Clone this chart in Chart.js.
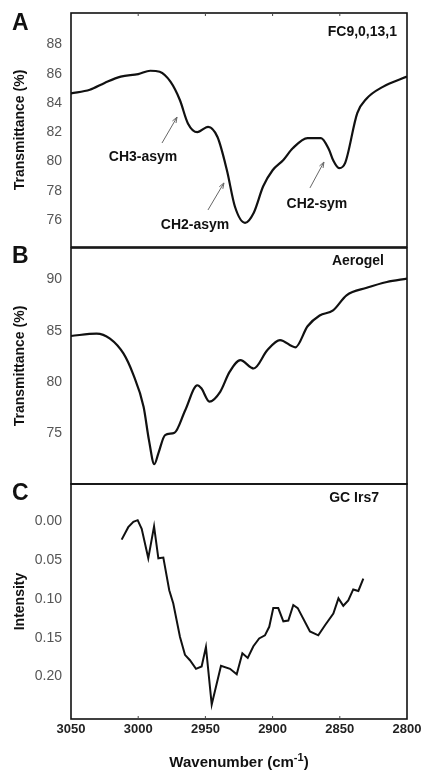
<!DOCTYPE html>
<html>
<head>
<meta charset="utf-8">
<script src="https://cdn.jsdelivr.net/npm/chart.js@4/dist/chart.umd.min.js"></script>
<style>
  body { margin: 0; background: #fff; }
  #wrap { position: relative; width: 425px; height: 771px; }
  canvas { position: absolute; left: 0; }
</style>
</head>
<body>
<div id="wrap">
  <canvas id="panelA" width="425" height="260" style="top:0px"></canvas>
  <canvas id="panelB" width="425" height="260" style="top:240px"></canvas>
  <canvas id="panelC" width="425" height="301" style="top:470px"></canvas>
</div>
<script>
// panel A - FC9,0,13,1 transmittance
const wnA = [3050, 3036, 3025, 3013, 3000, 2991, 2984, 2976, 2969, 2963, 2956, 2948, 2941, 2934, 2928, 2920.5, 2914, 2907, 2900, 2892, 2885, 2874, 2864, 2858, 2855, 2850.5, 2846, 2837, 2830, 2818, 2800]
const valA = [84.65, 84.9, 85.37, 85.8, 85.97, 86.2, 86.13, 85.45, 84.2, 82.6, 82.0, 82.37, 81.67, 79.4, 76.9, 75.8, 76.5, 78.3, 79.4, 80.1, 80.9, 81.6, 81.6, 80.8, 80.1, 79.55, 79.9, 83.3, 84.3, 85.1, 85.8]
const ticksA = [76, 78, 80, 82, 84, 86, 88]

// panel B - Aerogel transmittance
const wnB = [3050, 3031, 3021, 3011, 3004, 2996, 2992, 2988, 2985, 2980, 2973, 2965, 2956, 2953, 2947, 2939, 2932, 2924, 2914, 2904, 2894.5, 2883, 2874, 2865, 2855, 2845, 2830, 2815, 2800]
const valB = [84.5, 84.74, 84.25, 82.8, 80.85, 77.6, 74.35, 72.0, 73.06, 74.84, 75.07, 77.27, 79.7, 79.4, 78.1, 79.06, 81.0, 82.14, 81.33, 83.1, 84.1, 83.4, 85.45, 86.5, 87.0, 88.47, 89.2, 89.77, 90.1]
const ticksB = [75, 80, 85, 90]

// panel C - GC Irs7 intensity
const wnC = [3012.3, 3007.4, 3003.6, 3000.4, 2997.4, 2992.5, 2988.2, 2985, 2981.3, 2976.9, 2973.9, 2968.9, 2965.2, 2961.5, 2957, 2952.8, 2949.6, 2945.3, 2938.4, 2931.7, 2926.7, 2922.5, 2918.5, 2914.3, 2910, 2905.7, 2902.5, 2899.5, 2895.8, 2892, 2888.3, 2884.6, 2881.3, 2872.2, 2866, 2861, 2854.8, 2851, 2847.4, 2843.7, 2840, 2836.2, 2832.5]
const valC = [0.024, 0.008, 0.001, -0.001, 0.010, 0.048, 0.007, 0.048, 0.047, 0.089, 0.106, 0.149, 0.172, 0.179, 0.190, 0.187, 0.162, 0.236, 0.186, 0.190, 0.197, 0.170, 0.176, 0.161, 0.151, 0.147, 0.136, 0.112, 0.112, 0.129, 0.128, 0.108, 0.112, 0.142, 0.147, 0.134, 0.119, 0.0995, 0.109, 0.102, 0.088, 0.090, 0.074]
const ticksC = [0.00, 0.05, 0.10, 0.15, 0.20]

const xTicks = [3050, 3000, 2950, 2900, 2850, 2800]

// band labels in panel A (text spot and arrow tail -> head, in data units)
const bandNames = ['CH3-asym', 'CH2-asym', 'CH2-sym']
const bandTextWn = [2996.4, 2957.7, 2867]
const bandTextVal = [80.31, 75.66, 77.09]
const arrowFrom = [[2982.3, 81.26], [2948.1, 76.68], [2872.2, 78.19]]
const arrowTo = [[2971.1, 83.03], [2936.2, 78.53], [2861.8, 79.96]]

const FONT = '"Liberation Sans", Arial, Helvetica, sans-serif'

function toXY(xs, ys){
    return xs.map((x, i) => ({x: x, y: ys[i]}))
}

// frame + panel letter + sample name
const framePlugin = {
    id: 'frame',
    afterDraw(chart){
        let o = chart.options.plugins.frame
        let a = chart.chartArea
        let ctx = chart.ctx
        ctx.save()
        ctx.strokeStyle = '#111'
        ctx.lineWidth = 1.6
        ctx.strokeRect(a.left, a.top, a.right - a.left, a.bottom - a.top)
        // little inward ticks
        let xs = chart.scales.x
        ctx.lineWidth = 1
        ctx.strokeStyle = '#444'
        xTicks.slice(1, -1).forEach(v => {
            let px = xs.getPixelForValue(v)
            if (o.tickTop) { ctx.beginPath(); ctx.moveTo(px, a.top); ctx.lineTo(px, a.top + 3); ctx.stroke() }
            if (o.tickBottom) { ctx.beginPath(); ctx.moveTo(px, a.bottom); ctx.lineTo(px, a.bottom - 3); ctx.stroke() }
        })
        ctx.fillStyle = '#111'
        ctx.font = 'bold 23px ' + FONT
        ctx.textAlign = 'left'
        ctx.textBaseline = 'middle'
        ctx.fillText(o.letter, 12, o.letterY)
        ctx.font = 'bold 14px ' + FONT
        ctx.textAlign = 'right'
        ctx.fillText(o.name, a.right - o.nameDx, a.top + o.nameDy)
        if (o.xTitle) {
            let cx = (a.left + a.right) / 2
            let y = a.bottom + 44
            ctx.font = 'bold 15px ' + FONT
            let t1 = 'Wavenumber (cm', sup = '-1', t2 = ')'
            let w1 = ctx.measureText(t1).width
            let w3 = ctx.measureText(t2).width
            ctx.font = 'bold 11px ' + FONT
            let w2 = ctx.measureText(sup).width
            let x0 = cx - (w1 + w2 + w3) / 2
            ctx.textAlign = 'left'
            ctx.font = 'bold 15px ' + FONT
            ctx.fillText(t1, x0, y)
            ctx.fillText(t2, x0 + w1 + w2, y)
            ctx.font = 'bold 11px ' + FONT
            ctx.fillText(sup, x0 + w1, y - 5)
        }
        ctx.restore()
    }
}

const bandPlugin = {
    id: 'bands',
    afterDatasetsDraw(chart){
        if (!chart.options.plugins.bands.show) return
        let xs = chart.scales.x, ys = chart.scales.y
        let ctx = chart.ctx
        ctx.save()
        ctx.lineWidth = 1
        for (let i = 0; i < bandNames.length; i++){
            ctx.strokeStyle = '#666'
            let x1 = xs.getPixelForValue(arrowFrom[i][0]), y1 = ys.getPixelForValue(arrowFrom[i][1])
            let x2 = xs.getPixelForValue(arrowTo[i][0]), y2 = ys.getPixelForValue(arrowTo[i][1])
            ctx.beginPath(); ctx.moveTo(x1, y1); ctx.lineTo(x2, y2); ctx.stroke()
            let ang = Math.atan2(y2 - y1, x2 - x1)
            ctx.beginPath()
            ctx.moveTo(x2, y2)
            ctx.lineTo(x2 - 6 * Math.cos(ang - 0.35), y2 - 6 * Math.sin(ang - 0.35))
            ctx.moveTo(x2, y2)
            ctx.lineTo(x2 - 6 * Math.cos(ang + 0.35), y2 - 6 * Math.sin(ang + 0.35))
            ctx.stroke()
            ctx.fillStyle = '#111'
            ctx.font = 'bold 14px ' + FONT
            ctx.textAlign = 'center'
            ctx.textBaseline = 'middle'
            ctx.fillText(bandNames[i], xs.getPixelForValue(bandTextWn[i]), ys.getPixelForValue(bandTextVal[i]))
        }
        ctx.restore()
    }
}

function panelChart(id, xy, yMin, yMax, yTickVals, yTitle, opts){
    const data = {
        datasets: [{
            data: xy,
            borderColor: '#111',
            borderWidth: opts.lineWidth,
            pointRadius: 0,
            fill: false,
            tension: opts.smooth ? 0.4 : 0,
            cubicInterpolationMode: opts.smooth ? 'monotone' : 'default'
        }]
    }
    const config = {
        type: 'line',
        data: data,
        plugins: [framePlugin, bandPlugin],
        options: {
            responsive: false,
            maintainAspectRatio: false,
            animation: false,
            layout: { padding: opts.padding },
            plugins: {
                legend: { display: false },
                tooltip: { enabled: false },
                frame: opts.frame,
                bands: { show: !!opts.bands }
            },
            scales: {
                x: {
                    type: 'linear',
                    reverse: true,
                    min: 2800,
                    max: 3050,
                    display: !!opts.showX,
                    afterFit: s => {
                        s.height = opts.showX ? 52 : 0
                        s.paddingLeft = 0
                        s.paddingRight = 0
                    },
                    afterBuildTicks: s => { s.ticks = xTicks.map(v => ({value: v})) },
                    grid: { display: false, drawTicks: false },
                    border: { display: false },
                    ticks: {
                        padding: 3,
                        maxRotation: 0,
                        autoSkip: false,
                        color: '#222',
                        font: { family: FONT, size: 13, weight: 'bold' },
                        callback: v => String(v)
                    }
                },
                y: {
                    type: 'linear',
                    reverse: !!opts.reverseY,
                    min: yMin,
                    max: yMax,
                    afterFit: s => {
                        s.width = 71
                        s.paddingTop = 0
                        s.paddingBottom = 0
                    },
                    afterBuildTicks: s => { s.ticks = yTickVals.map(v => ({value: v})) },
                    grid: { display: false, drawTicks: false },
                    border: { display: false },
                    ticks: {
                        padding: 9,
                        color: '#555',
                        font: { family: FONT, size: 14 },
                        callback: v => opts.decimals ? v.toFixed(2) : String(v)
                    },
                    title: {
                        display: true,
                        text: yTitle,
                        color: '#111',
                        padding: { top: 12, bottom: 0 },
                        font: { family: FONT, size: 14, weight: 'bold' }
                    }
                }
            }
        }
    }
    let ctx = document.getElementById(id).getContext('2d')
    return new Chart(ctx, config)
}

panelChart('panelA', toXY(wnA, valA), 74.15, 90.15, ticksA, 'Transmittance (%)', {
    smooth: true, lineWidth: 2.2, bands: true,
    padding: { top: 13, right: 18, bottom: 13, left: 0 },
    frame: { letter: 'A', letterY: 24, name: 'FC9,0,13,1', nameDx: 10, nameDy: 19, tickTop: true }
})

panelChart('panelB', toXY(wnB, valB), 70.07, 93.08, ticksB, 'Transmittance (%)', {
    smooth: true, lineWidth: 2.2,
    padding: { top: 8, right: 18, bottom: 16, left: 0 },
    frame: { letter: 'B', letterY: 17, name: 'Aerogel', nameDx: 23, nameDy: 13 }
})

panelChart('panelC', toXY(wnC, valC), -0.0475, 0.2545, ticksC, 'Intensity', {
    smooth: false, lineWidth: 2, reverseY: true, decimals: true, showX: true,
    padding: { top: 14, right: 18, bottom: 0, left: 0 },
    frame: { letter: 'C', letterY: 24, name: 'GC Irs7', nameDx: 28, nameDy: 14, tickBottom: true, xTitle: true }
})
</script>
</body>
</html>
